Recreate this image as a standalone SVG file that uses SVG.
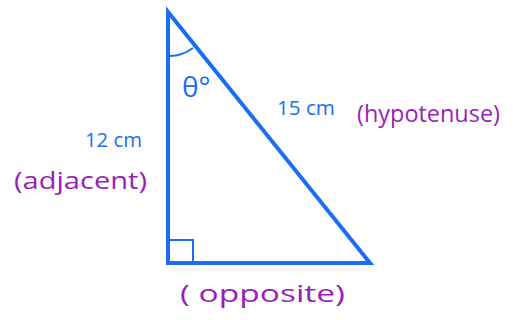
<svg xmlns="http://www.w3.org/2000/svg" width="513" height="320" viewBox="0 0 513 320">
<style>
.tri{fill:none;stroke:#1a6ef5;stroke-width:4;stroke-linejoin:miter}
.mark{fill:none;stroke:#1a6ef5;stroke-width:2}
.b{fill:#1a6ef5;font-family:"Open Sans",sans-serif}
.p{fill:#9a1eb8;font-family:"Open Sans",sans-serif}
</style>
<rect width="513" height="320" fill="#fff"/>
<g id="triangle">
<polygon class="tri" points="168,12 168,263 370,263"/>
<path class="mark" d="M170,56 Q182,56 193,48"/>
<path class="mark" d="M170,240 L193,240 L193,261"/>
<text class="b" x="182" y="97" font-size="28">θ°</text>
</g>
<g id="adjacent-label">
<text class="b" x="85" y="147" font-size="20" textLength="57" lengthAdjust="spacingAndGlyphs">12 cm</text>
<text class="p" x="14" y="189" font-size="24" textLength="133" lengthAdjust="spacingAndGlyphs">(adjacent)</text>
</g>
<g id="hypotenuse-label">
<text class="b" x="277" y="115" font-size="20" textLength="58" lengthAdjust="spacingAndGlyphs">15 cm</text>
<text class="p" x="357" y="122" font-size="24" textLength="143" lengthAdjust="spacingAndGlyphs">(hypotenuse)</text>
</g>
<g id="opposite-label">
<text class="p" x="180" y="302" font-size="24" textLength="165" lengthAdjust="spacingAndGlyphs">( opposite)</text>
</g>
</svg>
